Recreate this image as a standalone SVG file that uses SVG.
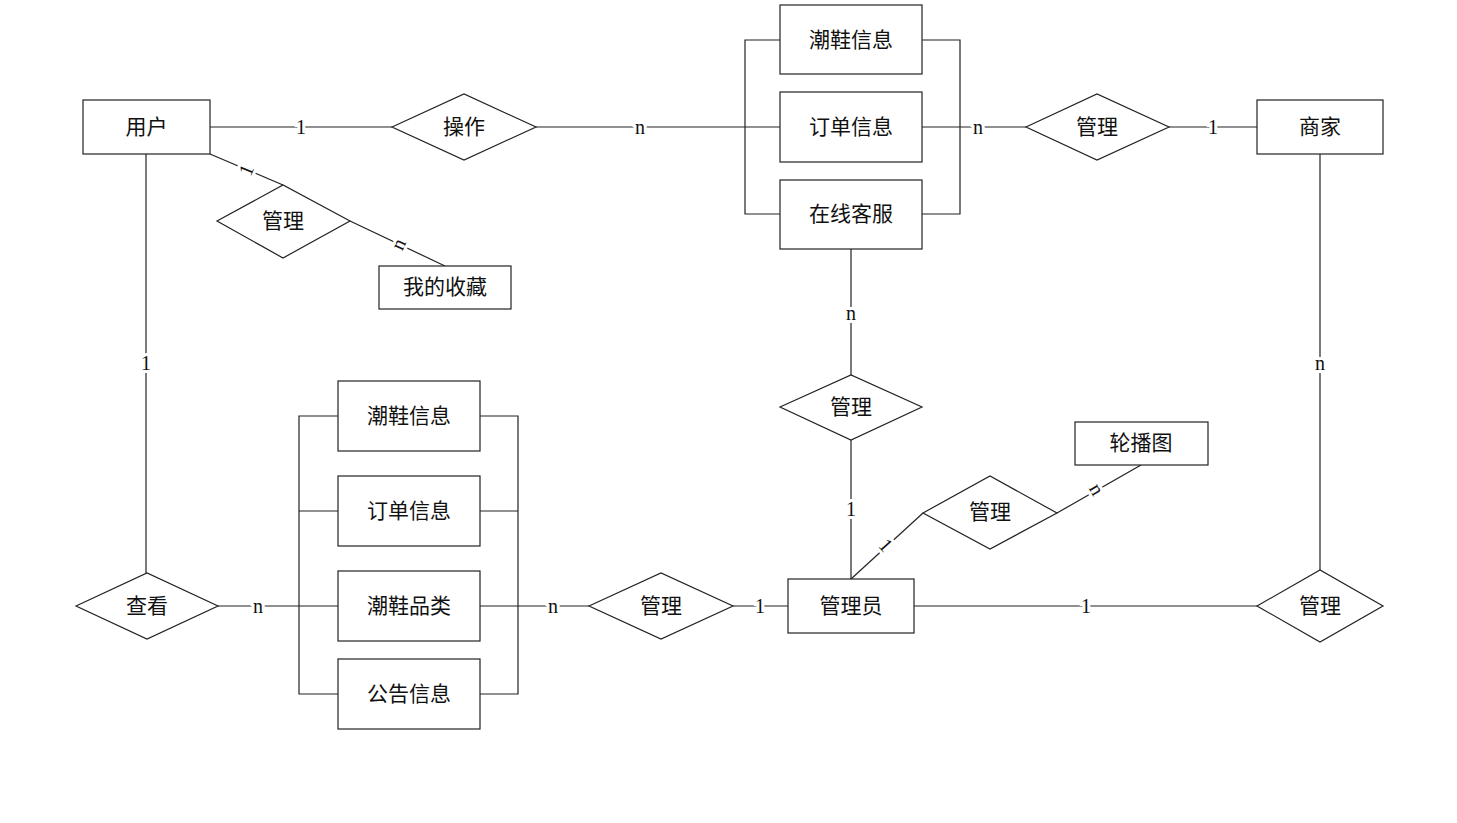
<svg xmlns="http://www.w3.org/2000/svg" width="1457" height="823" viewBox="0 0 1457 823">
<style>
.b{fill:#fff;stroke:#222;stroke-width:1.2}
.l{fill:none;stroke:#222;stroke-width:1.2}
.t{font-family:"Liberation Serif","Noto Sans CJK SC",serif;font-size:21px;fill:#111;text-anchor:middle;dominant-baseline:central}
.c{font-family:"Liberation Serif",serif;font-size:20px;fill:#111;text-anchor:middle;dominant-baseline:central;stroke:#fff;stroke-width:6;paint-order:stroke}
</style>
<rect width="1457" height="823" fill="#fff"/>
<g id="connectors">
<line class="l" x1="210" y1="127" x2="392" y2="127"/>
<line class="l" x1="536" y1="127" x2="780" y2="127"/>
<polyline class="l" points="780,40 745,40 745,214 780,214"/>
<polyline class="l" points="922,40 960,40 960,214 922,214"/>
<line class="l" x1="922" y1="127" x2="1026" y2="127"/>
<line class="l" x1="1169" y1="127" x2="1257" y2="127"/>
<line class="l" x1="1320" y1="154" x2="1320" y2="570"/>
<line class="l" x1="914" y1="606" x2="1257" y2="606"/>
<line class="l" x1="851" y1="249" x2="851" y2="375"/>
<line class="l" x1="851" y1="440" x2="851" y2="579"/>
<line class="l" x1="851" y1="579" x2="923" y2="513"/>
<line class="l" x1="1057" y1="513" x2="1141" y2="465"/>
<line class="l" x1="146" y1="154" x2="146" y2="573"/>
<line class="l" x1="218" y1="606" x2="338" y2="606"/>
<polyline class="l" points="338,416 299,416 299,694 338,694"/>
<line class="l" x1="299" y1="511" x2="338" y2="511"/>
<polyline class="l" points="480,416 518,416 518,694 480,694"/>
<line class="l" x1="480" y1="511" x2="518" y2="511"/>
<line class="l" x1="480" y1="606" x2="589" y2="606"/>
<line class="l" x1="733" y1="606" x2="788" y2="606"/>
<line class="l" x1="210" y1="154" x2="283" y2="185"/>
<line class="l" x1="350" y1="221" x2="445" y2="266"/>
<text class="c" x="301" y="127">1</text>
<text class="c" x="640" y="127">n</text>
<text class="c" x="978" y="127">n</text>
<text class="c" x="1213" y="127">1</text>
<text class="c" x="1320" y="363">n</text>
<text class="c" x="1086" y="606">1</text>
<text class="c" x="851" y="313">n</text>
<text class="c" x="851" y="509">1</text>
<text class="c" x="146" y="363">1</text>
<text class="c" x="258" y="606">n</text>
<text class="c" x="553" y="606">n</text>
<text class="c" x="760" y="606">1</text>
<text class="c" transform="translate(246,170) rotate(-67)">1</text>
<text class="c" transform="translate(398,244) rotate(-65)">n</text>
<text class="c" transform="translate(886,545) rotate(48)">1</text>
<text class="c" transform="translate(1097,489) rotate(60)">n</text>
</g>
<g id="user"><rect class="b" x="83" y="100" width="127" height="54"/><text class="t" x="146.5" y="127">用户</text></g>
<g id="op"><polygon class="b" points="392,127 464,94 536,127 464,160"/><text class="t" x="464" y="127">操作</text></g>
<g id="shoe1"><rect class="b" x="780" y="5" width="142" height="69"/><text class="t" x="851" y="40">潮鞋信息</text></g>
<g id="order1"><rect class="b" x="780" y="92" width="142" height="70"/><text class="t" x="851" y="127">订单信息</text></g>
<g id="service"><rect class="b" x="780" y="180" width="142" height="69"/><text class="t" x="851" y="214">在线客服</text></g>
<g id="mgr-merchant"><polygon class="b" points="1026,127 1097,94 1169,127 1097,160"/><text class="t" x="1097" y="127">管理</text></g>
<g id="merchant"><rect class="b" x="1257" y="100" width="126" height="54"/><text class="t" x="1320" y="127">商家</text></g>
<g id="mgr-br"><polygon class="b" points="1257,606 1320,570 1383,606 1320,642"/><text class="t" x="1320" y="606">管理</text></g>
<g id="admin"><rect class="b" x="788" y="579" width="126" height="54"/><text class="t" x="851" y="606">管理员</text></g>
<g id="mgr-mid"><polygon class="b" points="780,407 851,375 922,407 851,440"/><text class="t" x="851" y="407">管理</text></g>
<g id="mgr-banner"><polygon class="b" points="923,513 990,476 1057,513 990,549"/><text class="t" x="990" y="512">管理</text></g>
<g id="banner"><rect class="b" x="1075" y="422" width="133" height="43"/><text class="t" x="1141" y="443">轮播图</text></g>
<g id="view"><polygon class="b" points="76,606 147,573 218,606 147,639"/><text class="t" x="147" y="606">查看</text></g>
<g id="shoe2"><rect class="b" x="338" y="381" width="142" height="70"/><text class="t" x="409" y="416">潮鞋信息</text></g>
<g id="order2"><rect class="b" x="338" y="476" width="142" height="70"/><text class="t" x="409" y="511">订单信息</text></g>
<g id="category"><rect class="b" x="338" y="571" width="142" height="70"/><text class="t" x="409" y="606">潮鞋品类</text></g>
<g id="notice"><rect class="b" x="338" y="659" width="142" height="70"/><text class="t" x="409" y="694">公告信息</text></g>
<g id="mgr-left"><polygon class="b" points="589,606 661,573 733,606 661,639"/><text class="t" x="661" y="606">管理</text></g>
<g id="mgr-fav"><polygon class="b" points="217,221 283,185 350,221 283,258"/><text class="t" x="283" y="221">管理</text></g>
<g id="fav"><rect class="b" x="379" y="266" width="132" height="43"/><text class="t" x="445" y="287">我的收藏</text></g>
</svg>
